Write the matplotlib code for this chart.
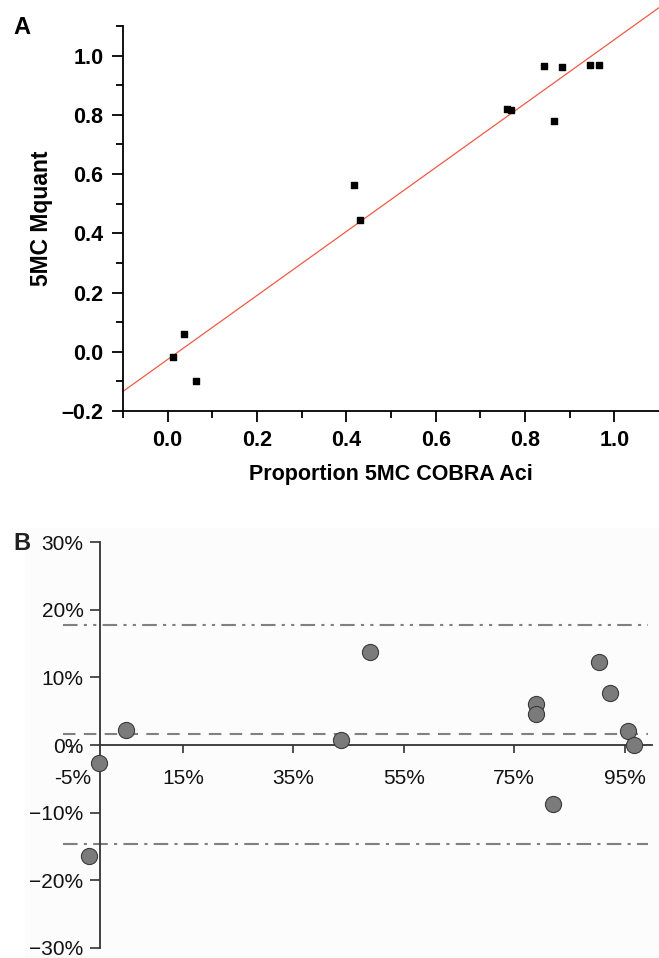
import numpy as np
import matplotlib
matplotlib.use("Agg")
import matplotlib.pyplot as plt
from matplotlib.ticker import FixedLocator

plt.rcParams['font.family'] = ['Liberation Sans', 'DejaVu Sans']

# Panel A: COBRA proportion vs Mquant
cobra = [0.011, 0.036, 0.063, 0.418, 0.431, 0.760, 0.769, 0.842, 0.865, 0.883, 0.945, 0.965]
mquant = [-0.017, 0.061, -0.098, 0.563, 0.444, 0.820, 0.816, 0.966, 0.780, 0.962, 0.969, 0.969]

# Panel B: Bland-Altman (mean vs difference)
ba_mean = [-0.020, -0.002, 0.047, 0.436, 0.488, 0.789, 0.789, 0.820, 0.903, 0.923, 0.955, 0.966]
ba_diff = [-0.164, -0.027, 0.022, 0.007, 0.138, 0.061, 0.046, -0.087, 0.123, 0.077, 0.021, 0.000]
bias = 0.016
loa_upper = 0.178
loa_lower = -0.147

x_ticks_b = [-0.05, 0.15, 0.35, 0.55, 0.75, 0.95]
x_labels_b = ['-5%', '15%', '35%', '55%', '75%', '95%']
y_ticks_b = [-0.3, -0.2, -0.1, 0.0, 0.1, 0.2, 0.3]
y_labels_b = ['\u221230%', '\u221220%', '\u221210%', '0%', '10%', '20%', '30%']

W, H = 659, 958
fig = plt.figure(figsize=(W / 100, H / 100), dpi=100)

# ---------------- panel A ----------------
axA = fig.add_axes([123 / W, 1 - 411 / H, 536 / W, 385 / H])
axA.scatter(cobra, mquant, marker='s', s=22, color='black', zorder=3)

slope, icept = np.polyfit(cobra, mquant, 1)
xl = np.array([-0.1, 1.1])
axA.plot(xl, slope * xl + icept, color='#f05a45', lw=0.9, clip_on=False, zorder=2)

axA.set_xlim(-0.1, 1.1)
axA.set_ylim(-0.2, 1.1)
axA.spines['top'].set_visible(False)
axA.spines['right'].set_visible(False)
for s in ('left', 'bottom'):
    axA.spines[s].set_linewidth(1.3)
axA.xaxis.set_major_locator(FixedLocator([0.0, 0.2, 0.4, 0.6, 0.8, 1.0]))
axA.xaxis.set_minor_locator(FixedLocator([-0.1, 0.1, 0.3, 0.5, 0.7, 0.9]))
axA.yaxis.set_major_locator(FixedLocator([-0.2, 0.0, 0.2, 0.4, 0.6, 0.8, 1.0]))
axA.yaxis.set_minor_locator(FixedLocator([-0.1, 0.1, 0.3, 0.5, 0.7, 0.9, 1.1]))
axA.xaxis.set_major_formatter(plt.FuncFormatter(lambda v, p: f"{v:.1f}"))
axA.yaxis.set_major_formatter(plt.FuncFormatter(lambda v, p: f"{v:.1f}".replace('-', '\u2013')))
axA.tick_params(which='major', length=8, width=1.3, labelsize=15.5, pad=6)
axA.tick_params(which='minor', length=5, width=1.3)
for lab in axA.get_xticklabels() + axA.get_yticklabels():
    lab.set_fontweight('bold')
axA.set_xlabel('Proportion 5MC COBRA Aci', fontsize=15.5, fontweight='bold', labelpad=9)
axA.set_ylabel('5MC Mquant', fontsize=16.5, fontweight='bold', labelpad=6)
fig.text(13 / W, 1 - 28 / H, 'A', fontsize=17, fontweight='bold', va='center', ha='left')

# ---------------- panel B ----------------
axB = fig.add_axes([25 / W, 0, 634 / W, 1 - 528 / H])
axB.set_facecolor('#fcfcfc')
axB.set_xlim(-0.136, 1.012)
axB.set_ylim(-0.315, 0.321)

axB.hlines(bias, -0.067, 0.992, colors='#808080', linestyles=(0, (6, 4)), lw=1.5, zorder=1)
axB.hlines(loa_upper, -0.067, 0.992, colors='#808080', linestyles=(0, (7, 3, 1.5, 3, 1.5, 3)), lw=1.5, zorder=1)
axB.hlines(loa_lower, -0.067, 0.992, colors='#808080', linestyles=(0, (7, 3, 1.5, 3)), lw=1.5, zorder=1)

axB.scatter(ba_mean, ba_diff, s=135, color='#7b7b7b', edgecolors='#3a3a3a', linewidths=0.8, zorder=3, clip_on=False)

for s in ('top', 'right'):
    axB.spines[s].set_visible(False)
axB.spines['left'].set_position(('data', 0.0))
axB.spines['bottom'].set_position(('data', 0.0))
axB.spines['left'].set_bounds(-0.3, 0.3)
axB.spines['bottom'].set_bounds(0.0, 1.0)
for s in ('left', 'bottom'):
    axB.spines[s].set_color('#333333')
    axB.spines[s].set_linewidth(1.3)
axB.set_xticks(x_ticks_b)
axB.set_xticklabels(x_labels_b)
axB.set_yticks(y_ticks_b)
axB.set_yticklabels(y_labels_b)
axB.tick_params(axis='x', length=6, width=1.2, color='#333333', labelsize=15, pad=11, labelcolor='#111111')
axB.tick_params(axis='y', length=7, width=1.2, color='#333333', labelsize=15, pad=5, labelcolor='#111111')
fig.text(13 / W, 1 - 543 / H, 'B', fontsize=17, fontweight='bold', va='center', ha='left', color='#222222')

fig.savefig('out.png', dpi=100)
